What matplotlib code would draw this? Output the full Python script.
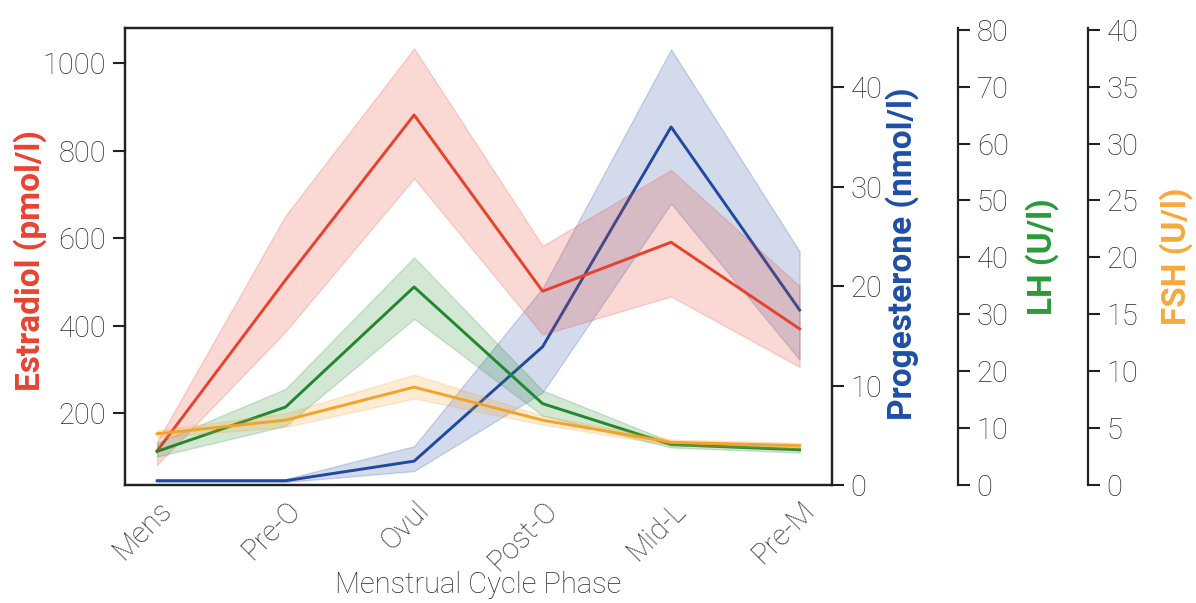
import matplotlib
matplotlib.use("Agg")
import matplotlib.pyplot as plt
import numpy as np

plt.rcParams['font.family'] = ['Roboto', 'DejaVu Sans']

phases = ['Mens', 'Pre-O', 'Ovul', 'Post-O', 'Mid-L', 'Pre-M']

estradiol_mean = [114, 505, 882, 479, 591, 393]
estradiol_low = [82, 387, 737, 380, 467, 306]
estradiol_high = [135, 652, 1034, 583, 756, 491]

progesterone_mean = [0.43, 0.43, 2.4, 13.9, 36.0, 17.6]
progesterone_low = [0.3, 0.3, 1.4, 9.3, 28.3, 12.6]
progesterone_high = [0.6, 0.6, 3.9, 19.8, 43.8, 23.5]

lh_mean = [5.9, 13.7, 34.8, 14.3, 7.1, 6.2]
lh_low = [5.0, 10.4, 29.2, 12.2, 6.6, 5.7]
lh_high = [7.4, 16.9, 40.0, 16.6, 7.6, 6.7]

fsh_mean = [4.5, 5.7, 8.6, 5.7, 3.75, 3.46]
fsh_low = [4.2, 5.1, 7.6, 5.3, 3.5, 3.2]
fsh_high = [4.8, 6.3, 9.7, 6.1, 4.0, 3.7]

c_red = '#e8412c'
c_blue = '#1f4aa0'
c_green = '#23872f'
c_orange = '#f5a328'
lab_red = '#ea4230'
lab_blue = '#1d4fa6'
lab_green = '#2a9a38'
lab_orange = '#f8a83a'
tick_col = '#2e2e2e'
spine_col = '#222222'

DPI = 100
fig = plt.figure(figsize=(11.96, 6.03), dpi=DPI)
ax = fig.add_axes([125/1196, 1-485/603, (831.7-125)/1196, (485-27.5)/603])
ax2 = ax.twinx()
ax3 = ax.twinx()
ax4 = ax.twinx()

x = np.arange(len(phases))
fs = 21
lfs = 24
lw = 2.1
tw = 'light'

def style_axis(a):
    a.tick_params(axis='y', which='major', length=8.5, width=1.5, color=spine_col,
                  labelsize=fs, labelcolor=tick_col, pad=5)
    for lbl in a.get_yticklabels():
        lbl.set_fontweight(tw)

# progesterone (drawn beneath estradiol)
ax2.fill_between(x, progesterone_low, progesterone_high, color=c_blue, alpha=0.2, linewidth=1)
ax2.plot(x, progesterone_mean, color=c_blue, lw=lw)
ax2.set_ylim(0, 46)
ax2.set_yticks([0, 10, 20, 30, 40])

# estradiol
ax.fill_between(x, estradiol_low, estradiol_high, color=c_red, alpha=0.2, linewidth=1)
ax.plot(x, estradiol_mean, color=c_red, lw=lw)
ax.set_ylim(36, 1082)
ax.set_yticks([200, 400, 600, 800, 1000])
ax.set_xlim(-0.25, 5.25)
ax.set_xticks(x)
ax.set_xticklabels(phases, rotation=45, ha='right', rotation_mode='anchor',
                   fontsize=fs, color=tick_col, fontweight=tw)
ax.tick_params(axis='x', length=0, pad=8)

# LH
ax3.fill_between(x, lh_low, lh_high, color=c_green, alpha=0.2, linewidth=1)
ax3.plot(x, lh_mean, color=c_green, lw=lw)
ax3.set_ylim(0, 80.4)
ax3.set_yticks(np.arange(0, 81, 10))
ax3.spines['right'].set_position(('axes', (958-125)/706.7))

# FSH
ax4.fill_between(x, fsh_low, fsh_high, color=c_orange, alpha=0.2, linewidth=1)
ax4.plot(x, fsh_mean, color=c_orange, lw=lw)
ax4.set_ylim(0, 40.2)
ax4.set_yticks(np.arange(0, 41, 5))
ax4.spines['right'].set_position(('axes', (1088-125)/706.7))

# z-order: progesterone at bottom, then estradiol, LH, FSH
ax2.set_zorder(1)
ax.set_zorder(2)
ax3.set_zorder(3)
ax4.set_zorder(4)
for a in (ax, ax2, ax3, ax4):
    a.patch.set_visible(False)

for a in (ax3, ax4):
    for s in ('top', 'bottom', 'left'):
        a.spines[s].set_visible(False)
for a in (ax, ax2, ax3, ax4):
    for s in a.spines.values():
        s.set_linewidth(1.6)
        s.set_color(spine_col)

for a in (ax, ax2, ax3, ax4):
    style_axis(a)

ax.set_xlabel('Menstrual Cycle Phase', fontsize=fs, color=tick_col, fontweight=tw, labelpad=-4)
ax.set_ylabel('Estradiol (pmol/l)', fontsize=lfs, color=lab_red, fontweight='bold')
ax.yaxis.set_label_coords((47-125)/706.7, 0.49)
ax2.set_ylabel('Progesterone (nmol/l)', fontsize=lfs, color=lab_blue, fontweight='bold')
ax2.yaxis.set_label_coords((885-125)/706.7, 0.505)
ax3.set_ylabel('LH (U/l)', fontsize=lfs, color=lab_green, fontweight='bold')
ax3.yaxis.set_label_coords((1025-125)/706.7, 0.5)
ax4.set_ylabel('FSH (U/l)', fontsize=lfs, color=lab_orange, fontweight='bold')
ax4.yaxis.set_label_coords((1159-125)/706.7, 0.5)

fig.savefig('out.png', dpi=DPI)
